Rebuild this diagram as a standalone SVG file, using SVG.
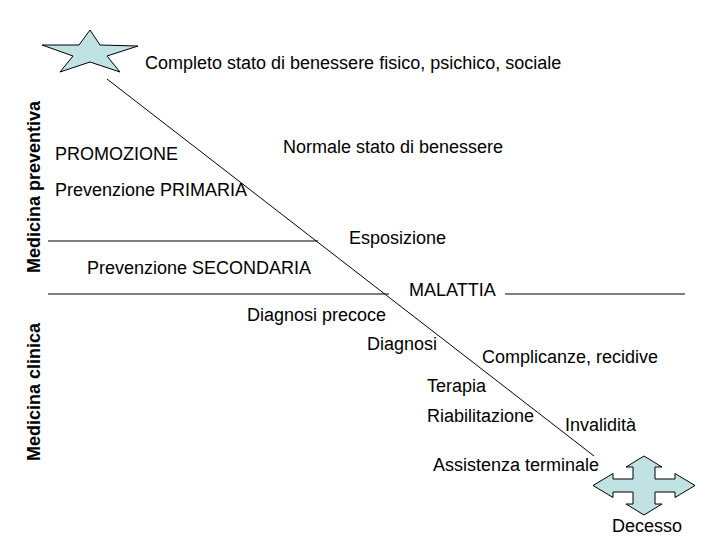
<svg xmlns="http://www.w3.org/2000/svg" width="720" height="540" viewBox="0 0 720 540">
<style>
text{font-family:"Liberation Sans",Arial,sans-serif;font-size:18px;fill:#000}
.side{font-weight:bold;text-anchor:middle}
.ln{stroke:#000;stroke-width:1;fill:none}
.shape{fill:#c0e2e2;stroke:#000;stroke-width:1}
</style>
<rect width="720" height="540" fill="#fff"/>
<g id="connectors">
<line class="ln" x1="107" y1="79" x2="594" y2="456"/>
<line class="ln" x1="48" y1="241" x2="318" y2="241"/>
<line class="ln" x1="48" y1="294" x2="389" y2="294"/>
<line class="ln" x1="505" y1="294" x2="685" y2="294"/>
</g>
<g id="star">
<polygon class="shape" points="90,30 100,45 138,46 107,56 120,72 90,62 60,72 73,56 42,45 79,45"/>
</g>
<g id="cross">
<polygon class="shape" points="644,456 662,467 655,467 655,479 675,479 675,473.5 695,485.5 675,497.5 675,492 655,492 655,504 662,504 644,515 626,504 633,504 633,492 613,492 613,497.5 593,485.5 613,473.5 613,479 633,479 633,467 626,467"/>
</g>
<g id="labels">
<text x="145" y="69">Completo stato di benessere fisico, psichico, sociale</text>
<text x="55" y="160">PROMOZIONE</text>
<text x="283" y="153">Normale stato di benessere</text>
<text x="55" y="196">Prevenzione PRIMARIA</text>
<text x="349" y="244">Esposizione</text>
<text x="87" y="274">Prevenzione SECONDARIA</text>
<text x="409" y="296">MALATTIA</text>
<text x="247" y="321">Diagnosi precoce</text>
<text x="367" y="350">Diagnosi</text>
<text x="482" y="363">Complicanze, recidive</text>
<text x="427" y="392">Terapia</text>
<text x="427" y="422">Riabilitazione</text>
<text x="565" y="431">Invalidità</text>
<text x="433" y="471">Assistenza terminale</text>
<text x="612" y="532">Decesso</text>
<text class="side" transform="translate(40,187) rotate(-90)">Medicina preventiva</text>
<text class="side" transform="translate(40,392) rotate(-90)">Medicina clinica</text>
</g>
</svg>
